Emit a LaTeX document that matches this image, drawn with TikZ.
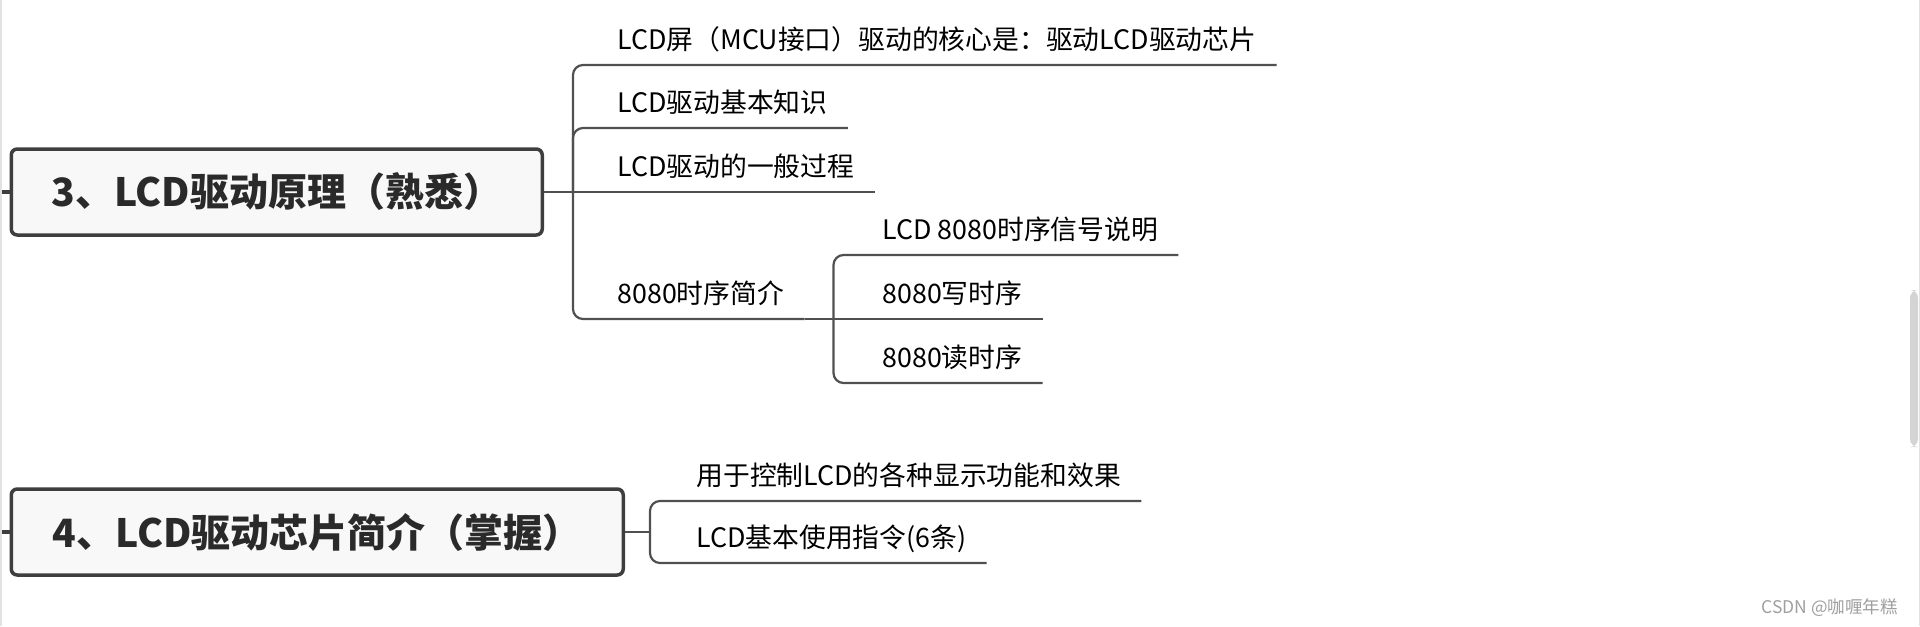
\documentclass[tikz,border=0pt]{standalone}
\usepackage{fontspec}
\newfontfamily\cjk{Noto Sans CJK SC}
\usetikzlibrary{positioning}
\definecolor{linegray}{HTML}{505050}
\definecolor{boxgray}{HTML}{3E3E3E}
\definecolor{boxfill}{HTML}{F8F8F8}
\definecolor{titletext}{HTML}{2A2A2A}
\definecolor{edgegray}{HTML}{E2E2E2}
\definecolor{scrollgray}{HTML}{D4D4D4}

\begin{document}
\begin{tikzpicture}[
    x=0.5pt, y=-0.5pt,
    topic/.style={draw=boxgray, line width=1.75pt, fill=boxfill, rounded corners=3pt, minimum height=43pt, anchor=west, inner sep=0pt, font=\cjk\bfseries\fontsize{19.5}{22}\selectfont, text=titletext},
    leaf/.style={anchor=south west, inner xsep=10pt, inner ysep=0pt, text height=10pt, text depth=7.75pt, font=\cjk\fontsize{13.4}{16}\selectfont, text=black},
    branch/.style={draw=linegray, line width=1.1pt, rounded corners=5pt},
    stub/.style={draw=boxgray, line width=2pt}
]
    \useasboundingbox (0,0) rectangle (1920,626);

    % Window edges
    \draw [edgegray, line width=1pt] (1,0) -- (1,626);
    \draw [edgegray, line width=0.5pt] (1919.5,0) -- (1919.5,626);
    \fill [scrollgray, rounded corners=4pt] (1910,290) rectangle (1918,447);

    % Topic 3
    \node [topic, minimum width=265.5pt] (b3) at (9.5,192) {3、LCD驱动原理（熟悉）};
    \coordinate (e3) at (2,192);
    \coordinate [right=14.5pt of b3.east] (j3);

    \node [leaf] (n1) at (597,65) {LCD屏（MCU接口）驱动的核心是：驱动LCD驱动芯片};
    \node [leaf] (n2) at (597,128) {LCD驱动基本知识};
    \node [leaf] (n3) at (597,192) {LCD驱动的一般过程};
    \node [leaf] (n4) at (597,319) {8080时序简介};
    \coordinate [right=14.5pt of n4.south east] (s4);

    \node [leaf] (m1) at (862,255) {LCD 8080时序信号说明};
    \node [leaf] (m2) at (862,319) {8080写时序};
    \node [leaf] (m3) at (862,383) {8080读时序};

    % Topic 4
    \node [topic, minimum width=306pt] (b4) at (9.5,532) {4、LCD驱动芯片简介（掌握）};
    \coordinate (e4) at (2,532);
    \coordinate [right=12.5pt of b4.east] (j4);

    \node [leaf] (p1) at (676,501) {用于控制LCD的各种显示功能和效果};
    \node [leaf] (p2) at (676,563) {LCD基本使用指令(6条)};

    % Connectors topic 3
    \draw [stub] (e3) -- (b3.west);
    \draw [branch] (b3.east) -- (n3.south east);
    \draw [branch] (j3) |- (n1.south west) -- (n1.south east);
    \draw [branch] (j3) |- (n2.south west) -- (n2.south east);
    \draw [branch] (j3) |- (n4.south west) -- (n4.south east);
    \draw [branch] (n4.south east) -- (m2.south east);
    \draw [branch] (s4) |- (m1.south west) -- (m1.south east);
    \draw [branch] (s4) |- (m3.south west) -- (m3.south east);

    % Connectors topic 4
    \draw [stub] (e4) -- (b4.west);
    \draw [branch] (b4.east) -- (j4);
    \draw [branch] (j4) |- (p1.south west) -- (p1.south east);
    \draw [branch] (j4) |- (p2.south west) -- (p2.south east);

    % Watermark
    \node [font=\cjk\fontsize{8.75}{10}\selectfont, text=gray!75, anchor=east] (mark) at (1905,608) {CSDN @咖喱年糕};

\end{tikzpicture}
\end{document}
